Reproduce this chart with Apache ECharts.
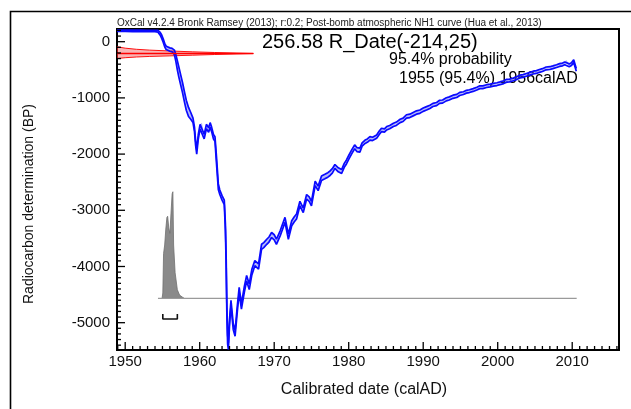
<!DOCTYPE html>
<html>
<head>
<meta charset="utf-8">
<script src="https://cdn.jsdelivr.net/npm/echarts@6/dist/echarts.min.js"></script>
<style>html,body{margin:0;padding:0;background:#fff;}#c{width:631px;height:409px;}</style>
</head>
<body>
<div id="c"></div>
<script>
// ---- Data ----
const xTickLabels = [1950, 1960, 1970, 1980, 1990, 2000, 2010];
const yTickLabels = [0, -1000, -2000, -3000, -4000, -5000];

// Calibration curve (NH1 post-bomb), calendar year, mean BP, 1-sigma BP
const curveYear = [1948.9,1950,1951,1952,1953,1954,1954.4,1954.7,1954.9,1955.1,
 1955.3,1955.5,1955.7,1956.0,1956.3,1956.6,1956.8,1957.0,1957.2,1957.45,
 1957.7,1957.95,1958.2,1958.5,1958.8,1959.1,1959.3,1959.45,1959.6,1959.8,
 1960.05,1960.3,1960.6,1960.9,1961.2,1961.4,1961.6,1961.85,1962.05,1962.25,
 1962.5,1962.7,1963.0,1963.3,1963.45,1963.55,1963.65,1963.75,1963.85,1964.0,
 1964.2,1964.5,1964.75,1965.05,1965.3,1965.6,1966.0,1966.3,1966.65,1967.0,
 1967.4,1967.9,1968.3,1968.6,1969.0,1969.3,1969.65,1970.0,1970.3,1970.8,
 1971.1,1971.45,1971.9,1972.35,1972.7,1973.0,1973.45,1973.9,1974.35,1974.7,
 1975.0,1975.5,1975.9,1976.35,1976.8,1977.2,1977.5,1977.8,1978.15,1978.6,
 1979.05,1979.4,1979.7,1980.0,1980.4,1980.8,1981.1,1981.5,1981.8,1982.2,
 1982.5,1982.85,1983.2,1983.75,1984.1,1984.4,1984.8,1985.1,1985.5,1986.0,
 1986.4,1986.9,1987.3,1987.75,1988.2,1988.65,1989.1,1989.55,1990.0,1990.45,
 1990.9,1991.3,1991.8,1992.2,1992.6,1993.1,1993.5,1994.0,1994.5,1994.9,
 1995.4,1995.8,1996.2,1996.7,1997.2,1997.6,1998.0,1998.5,1999.0,1999.4,
 1999.9,2000.3,2000.8,2001.2,2001.6,2002.1,2002.6,2003.0,2003.4,2003.85,
 2004.3,2004.75,2005.2,2005.6,2006.0,2006.5,2007.0,2007.4,2007.9,2008.3,
 2008.7,2009.0,2009.2,2009.6,2009.9,2010.2,2010.55];
const curveMean = [195,195,193,195,192,190,185,140,90,20,
 -60,-110,-130,-140,-150,-190,-290,-420,-540,-680,
 -820,-980,-1130,-1250,-1320,-1400,-1560,-1800,-1960,-1700,
 -1510,-1480,-1690,-1510,-1570,-1480,-1560,-1690,-1730,-2100,
 -2580,-2680,-2780,-2860,-3300,-3900,-4800,-5300,-5420,-5000,
 -4650,-5070,-5190,-4750,-4420,-4710,-4400,-4210,-4360,-4100,
 -3940,-4000,-3650,-3620,-3560,-3520,-3440,-3480,-3560,-3410,
 -3300,-3170,-3470,-3230,-3160,-3110,-2880,-3000,-2760,-2800,
 -2880,-2520,-2610,-2430,-2400,-2370,-2340,-2300,-2220,-2280,
 -2310,-2200,-2140,-2060,-1960,-1870,-1920,-1930,-1830,-1780,
 -1760,-1720,-1730,-1690,-1620,-1570,-1580,-1540,-1520,-1480,
 -1460,-1410,-1390,-1330,-1320,-1290,-1260,-1245,-1210,-1185,
 -1160,-1125,-1110,-1070,-1065,-1025,-1010,-980,-965,-930,
 -915,-890,-880,-860,-835,-810,-810,-790,-780,-765,
 -755,-740,-720,-695,-690,-670,-645,-620,-610,-590,
 -570,-550,-540,-520,-505,-475,-470,-455,-435,-415,
 -405,-385,-350,-420,-400,-345,-500];
const curveSigma = [12,12,12,12,12,12,15,25,30,30,
 30,30,30,30,30,40,60,80,90,90,
 90,90,90,80,60,40,40,40,40,40,
 40,40,40,40,40,40,40,40,40,60,
 50,40,40,40,60,80,80,80,60,50,
 50,50,50,50,50,50,50,50,50,50,
 45,45,45,45,45,45,45,45,45,45,
 45,45,45,45,45,45,40,40,40,40,
 40,40,40,40,40,40,40,40,35,35,
 35,35,35,35,35,35,35,35,30,30,
 30,30,30,30,30,30,30,30,30,30,
 30,30,30,30,30,30,30,30,30,30,
 28,28,28,28,28,28,28,28,28,28,
 25,25,25,25,25,25,25,25,25,25,
 25,25,25,25,25,25,25,25,25,25,
 25,25,25,25,25,25,25,25,25,25,
 25,25,25,25,25,25,25];

// Radiocarbon date R_Date(-214,25) profile outline (calendar extent vs BP)
const rDateYear = [1948.9,1950,1951.5,1953.3,1956,1959,1962,1965,1967.2,1965,1962,1959,1956,1953.3,1951.5,1950,1948.9];
const rDateBP   = [-90,-115,-135,-150,-165,-180,-192,-203,-210,-217,-228,-240,-252,-262,-272,-285,-300];
const rDateMean = -210;

// Calibrated probability distribution (relative)
const histYear = [1954.95,1955.05,1955.15,1955.3,1955.45,1955.6,1955.7,1955.85,1956.0,1956.15,1956.3,1956.4,1956.5,1956.7,1957.0,1957.3,1957.7,1957.9];
const histProb = [0,0.05,0.42,0.5,0.65,0.76,0.77,0.66,0.61,0.8,0.98,1.0,0.5,0.24,0.08,0.03,0.01,0];
const range95 = [1955.05, 1957.0];
const baselineYears = [1954.4, 2010.6];

// ---- Chart ----
const FONT = 'Liberation Sans, Arial, sans-serif';
const X_MIN = 1948.9, X_MAX = 2016.28, Y_MIN = -5486, Y_MAX = 226;
const xMinor = []; for (let y = 1949; y <= 2016; y++) if (y % 10) xMinor.push(y);
const yMinor = []; for (let v = -5400; v <= 200; v += 100) if (v % 1000) yMinor.push(v);

const upper = curveMean.map((m, i) => m + curveSigma[i]);
const lower = curveMean.map((m, i) => m - curveSigma[i]);

function polygonSeries(xs, ys, style, yAxisIndex) {
  return {
    type: 'custom', xAxisIndex: 0, yAxisIndex: yAxisIndex, clip: true, silent: true,
    data: [[1960, 0]],
    renderItem: function (params, api) {
      const pts = xs.map((x, i) => api.coord([x, ys[i]]));
      return { type: 'polygon', shape: { points: pts }, style: style };
    }
  };
}

const bandX = curveYear.concat(curveYear.slice().reverse());
const bandY = upper.concat(lower.slice().reverse());

const staticGraphics = [
  { type: 'polyline', silent: true, shape: { points: [[10.5, 409], [10.5, 11.5], [631, 11.5]] },
    style: { stroke: '#000', lineWidth: 1.6, fill: null } },
  { type: 'text', left: 117, top: 18, silent: true,
    style: { text: 'OxCal v4.2.4 Bronk Ramsey (2013); r:0.2; Post-bomb atmospheric NH1 curve (Hua et al., 2013)', fontSize: 10, fontFamily: FONT, fill: '#222' } },
  { type: 'text', left: 262, top: 32, silent: true,
    style: { text: '256.58 R_Date(-214,25)', fontSize: 20, fontFamily: FONT, fill: '#000' } },
  { type: 'text', left: 389, top: 52, silent: true,
    style: { text: '95.4% probability', fontSize: 16, fontFamily: FONT, fill: '#000' } },
  { type: 'text', left: 399, top: 71, silent: true,
    style: { text: '1955 (95.4%) 1956calAD', fontSize: 16, fontFamily: FONT, fill: '#000' } },
  { type: 'text', x: 364, y: 390, silent: true,
    style: { text: 'Calibrated date (calAD)', fontSize: 16, fontFamily: FONT, fill: '#111', align: 'center', verticalAlign: 'middle' } },
  { type: 'text', x: 29, y: 204, rotation: Math.PI / 2, silent: true,
    style: { text: 'Radiocarbon determination (BP)', fontSize: 14, fontFamily: FONT, fill: '#111', align: 'center', verticalAlign: 'middle' } }
];

const chart = echarts.init(document.getElementById('c'), null, { renderer: 'canvas' });
chart.setOption({
  animation: false,
  backgroundColor: '#fff',
  grid: { left: 117, right: 12, top: 29, bottom: 59, show: true, borderColor: '#000', borderWidth: 2, backgroundColor: 'transparent' },
  xAxis: [
    { type: 'value', min: X_MIN, max: X_MAX, position: 'bottom',
      axisLine: { show: true, onZero: false, lineStyle: { color: '#000', width: 2 } },
      axisTick: { show: false },
      axisLabel: { show: true, customValues: xTickLabels, margin: 4, fontSize: 15, color: '#111', fontFamily: FONT,
                   formatter: v => String(v) },
      splitLine: { show: false } }
  ],
  yAxis: [
    { type: 'value', min: Y_MIN, max: Y_MAX, position: 'left',
      axisLine: { show: true, onZero: false, lineStyle: { color: '#000', width: 2 } },
      axisTick: { show: false },
      axisLabel: { show: true, customValues: yTickLabels, margin: 7, fontSize: 15, color: '#111', fontFamily: FONT,
                   formatter: v => String(v) },
      splitLine: { show: false } },
    { type: 'value', min: -0.485, max: 2.527, show: false, position: 'right' }
  ],
  series: [
    // calibrated distribution
    polygonSeries(histYear, histProb, { fill: '#8a8a8a', stroke: '#707070', lineWidth: 0.8 }, 1),
    { type: 'line', xAxisIndex: 0, yAxisIndex: 1, data: baselineYears.map(x => [x, 0]), showSymbol: false,
      lineStyle: { color: '#9a9a9a', width: 1.2 }, silent: true },
    { type: 'line', xAxisIndex: 0, yAxisIndex: 1, showSymbol: false, silent: true,
      data: [[range95[0], -0.148], [range95[0], -0.194], [range95[1], -0.194], [range95[1], -0.148]],
      lineStyle: { color: '#111', width: 1.6 } },
    // calibration band
    polygonSeries(bandX, bandY, { fill: 'rgba(60,70,240,0.38)' }, 0),
    { type: 'line', xAxisIndex: 0, yAxisIndex: 0, data: curveYear.map((x, i) => [x, upper[i]]), showSymbol: false,
      lineStyle: { color: '#0a0aff', width: 1.7 }, silent: true, clip: true },
    { type: 'line', xAxisIndex: 0, yAxisIndex: 0, data: curveYear.map((x, i) => [x, lower[i]]), showSymbol: false,
      lineStyle: { color: '#0a0aff', width: 1.7 }, silent: true, clip: true },
    // radiocarbon date
    polygonSeries(rDateYear, rDateBP, { fill: 'rgba(240,70,70,0.4)', stroke: '#ff1010', lineWidth: 1 }, 0),
    { type: 'line', xAxisIndex: 0, yAxisIndex: 0, data: [[X_MIN, rDateMean], [1967.2, rDateMean]], showSymbol: false,
      lineStyle: { color: '#ff0000', width: 1.5 }, silent: true }
  ],
  graphic: staticGraphics
});

// inside tick marks, positioned through the axes' own scales
const ticks = [];
const finder = { xAxisIndex: 0, yAxisIndex: 0 };
function addX(v, len) {
  const p = chart.convertToPixel(finder, [v, Y_MIN]);
  ticks.push({ type: 'line', silent: true, z: 50,
    shape: { x1: p[0], y1: p[1], x2: p[0], y2: p[1] - len }, style: { stroke: '#000', lineWidth: 1.3 } });
}
function addY(v, len) {
  const p = chart.convertToPixel(finder, [X_MIN, v]);
  ticks.push({ type: 'line', silent: true, z: 50,
    shape: { x1: p[0], y1: p[1], x2: p[0] + len, y2: p[1] }, style: { stroke: '#000', lineWidth: 1.3 } });
}
xTickLabels.forEach(v => addX(v, 8));
xMinor.forEach(v => addX(v, 4));
yTickLabels.forEach(v => addY(v, 8));
yMinor.forEach(v => addY(v, 4));
chart.setOption({ graphic: staticGraphics.concat(ticks) });
</script>
</body>
</html>
